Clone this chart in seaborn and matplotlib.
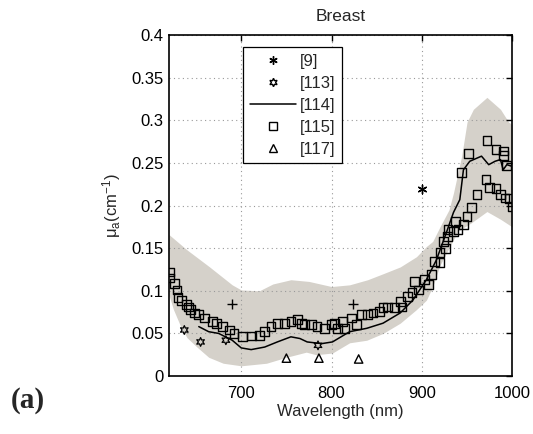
import numpy as np
import pandas as pd
import matplotlib
matplotlib.use("Agg")
import matplotlib.pyplot as plt
from matplotlib.ticker import FuncFormatter, MultipleLocator
from matplotlib.lines import Line2D
import seaborn as sns

# ---------------- data ----------------
band_upper_wl = [620, 640, 665, 690, 700, 720, 735, 755, 775, 800, 820, 840, 857, 876,
                 894, 905, 912, 920, 930, 935, 944, 950, 957, 972, 987, 996, 1000]
band_upper = [0.166, 0.148, 0.128, 0.107, 0.101, 0.100, 0.108, 0.113, 0.111, 0.105, 0.107,
              0.113, 0.120, 0.128, 0.140, 0.152, 0.158, 0.175, 0.195, 0.215, 0.258, 0.298,
              0.313, 0.327, 0.313, 0.298, 0.295]
band_lower_wl = [620, 625, 633, 640, 651, 664, 680, 700, 728, 750, 772, 783, 801, 820, 839,
                 857, 876, 894, 905, 912, 920, 930, 940, 955, 972, 987, 1000]
band_lower = [0.095, 0.078, 0.058, 0.045, 0.034, 0.022, 0.015, 0.012, 0.015, 0.022, 0.028,
              0.025, 0.027, 0.039, 0.042, 0.050, 0.062, 0.078, 0.089, 0.105, 0.130, 0.150,
              0.170, 0.180, 0.193, 0.184, 0.175]

ref114_wl = [653, 664, 675, 690, 700, 711, 726, 740, 755, 765, 773, 789, 801, 820, 839, 857,
             876, 890, 905, 916, 927, 935, 942, 946, 953, 966, 974, 981, 987, 990, 994, 1000]
ref114_mua = [0.058, 0.052, 0.050, 0.042, 0.033, 0.031, 0.034, 0.040, 0.046, 0.044, 0.040,
              0.038, 0.040, 0.052, 0.056, 0.062, 0.074, 0.089, 0.113, 0.136, 0.168, 0.192,
              0.207, 0.242, 0.252, 0.258, 0.248, 0.252, 0.254, 0.242, 0.248, 0.246]

ref115_wl = [621, 621, 626, 629, 630, 634, 639, 642, 644, 648, 653, 659, 668, 673, 679, 687,
             692, 701, 711, 720, 726, 733, 740, 748, 755, 762, 767, 770, 778, 784, 792, 800,
             807, 803, 812, 814, 822, 828, 833, 840, 846, 853, 857, 862, 870, 876, 878, 884,
             889, 892, 896, 903, 907, 911, 914, 920, 926, 928, 929, 924, 937, 940, 946, 950,
             955, 961, 944, 952, 972, 982, 990, 990, 994, 971, 975, 982, 987, 992, 997, 1000,
             935, 920]
ref115_mua = [0.122, 0.115, 0.109, 0.101, 0.092, 0.089, 0.084, 0.081, 0.078, 0.074, 0.072,
              0.068, 0.064, 0.062, 0.058, 0.054, 0.050, 0.046, 0.047, 0.048, 0.052, 0.058,
              0.062, 0.062, 0.064, 0.066, 0.062, 0.060, 0.060, 0.058, 0.056, 0.060, 0.056,
              0.062, 0.064, 0.056, 0.068, 0.060, 0.072, 0.072, 0.074, 0.076, 0.080, 0.081,
              0.080, 0.087, 0.081, 0.093, 0.098, 0.111, 0.101, 0.113, 0.107, 0.119, 0.134,
              0.145, 0.150, 0.164, 0.172, 0.158, 0.181, 0.172, 0.178, 0.187, 0.198, 0.213,
              0.239, 0.261, 0.276, 0.266, 0.264, 0.259, 0.247, 0.231, 0.221, 0.220, 0.213,
              0.209, 0.208, 0.199, 0.170, 0.133]

ref9_wl = [900]
ref9_mua = [0.219]
ref113_wl = [637, 655, 683, 785]
ref113_mua = [0.054, 0.040, 0.042, 0.036]
ref117_wl = [750, 786, 830]
ref117_mua = [0.021, 0.021, 0.020]
plus_wl = [690, 824]
plus_mua = [0.084, 0.085]

legend_labels = ["[9]", "[113]", "[114]", "[115]", "[117]"]

# ---------------- style ----------------
sns.set_style("white")
plt.rcParams["font.family"] = ["Liberation Sans", "DejaVu Sans"]
plt.rcParams["mathtext.fontset"] = "custom"
plt.rcParams["mathtext.rm"] = "Liberation Sans"
plt.rcParams["mathtext.it"] = "Liberation Sans:italic"
plt.rcParams["mathtext.default"] = "rm"

fig = plt.figure(figsize=(5.33, 4.34), dpi=100)
ax = fig.add_axes([0.317, 0.1336, 0.644, 0.7854])

band_color = "#d5d1ca"
grid = np.array(sorted(set(band_upper_wl) | set(band_lower_wl)), dtype=float)
up = np.interp(grid, band_upper_wl, band_upper)
lo = np.interp(grid, band_lower_wl, band_lower)
ax.fill_between(grid, lo, up, color=band_color, linewidth=0, zorder=1)

df114 = pd.DataFrame({"wl": ref114_wl, "mua": ref114_mua})
sns.lineplot(data=df114, x="wl", y="mua", ax=ax, color="black", linewidth=1.1,
             sort=False, zorder=4)

df115 = pd.DataFrame({"wl": ref115_wl, "mua": ref115_mua})
sns.scatterplot(data=df115, x="wl", y="mua", ax=ax, marker="s", s=40,
                facecolor="none", edgecolor="black", linewidth=1.0, zorder=5)

df9 = pd.DataFrame({"wl": ref9_wl, "mua": ref9_mua})
sns.scatterplot(data=df9, x="wl", y="mua", ax=ax, marker=(6, 2, 0), s=40,
                color="black", linewidth=1.0, zorder=5)

df113 = pd.DataFrame({"wl": ref113_wl, "mua": ref113_mua})
sns.scatterplot(data=df113, x="wl", y="mua", ax=ax, marker=(6, 1, 0), s=40,
                facecolor="none", edgecolor="black", linewidth=0.9, zorder=5)

df117 = pd.DataFrame({"wl": ref117_wl, "mua": ref117_mua})
sns.scatterplot(data=df117, x="wl", y="mua", ax=ax, marker="^", s=36,
                facecolor="none", edgecolor="black", linewidth=1.0, zorder=5)

dfp = pd.DataFrame({"wl": plus_wl, "mua": plus_mua})
sns.scatterplot(data=dfp, x="wl", y="mua", ax=ax, marker="+", s=50,
                color="black", linewidth=1.0, zorder=5)

# ---------------- axes ----------------
ax.set_xlim(620, 1000)
ax.set_ylim(0, 0.4)
ax.set_xticks([700, 800, 900, 1000])
ax.yaxis.set_major_locator(MultipleLocator(0.05))
ax.yaxis.set_major_formatter(FuncFormatter(lambda v, p: f"{v:g}"))
ax.grid(True, color="#999999", linestyle=(0, (1, 3)), linewidth=0.8)
ax.set_axisbelow(False)
for sp in ax.spines.values():
    sp.set_color("black")
    sp.set_linewidth(1.2)
    sp.set_zorder(6)
ax.tick_params(axis="both", which="both", direction="in", length=4, width=1,
               top=True, right=True, labelsize=12, colors="black")
ax.tick_params(axis="x", pad=7)
ax.tick_params(axis="y", pad=4)
ax.set_xlabel("Wavelength (nm)", fontsize=12, labelpad=2)
ax.set_ylabel(r"μ$_\mathrm{a}$(cm$^{-1}$)", fontsize=12, labelpad=6)
ax.set_title("Breast", fontsize=12.5, pad=10)

handles = [
    Line2D([], [], linestyle="none", marker=(6, 2, 0), color="black", markersize=6, markeredgewidth=1),
    Line2D([], [], linestyle="none", marker=(6, 1, 0), markerfacecolor="none", markeredgecolor="black", markersize=6),
    Line2D([], [], color="black", linewidth=1.1),
    Line2D([], [], linestyle="none", marker="s", markerfacecolor="none", markeredgecolor="black", markersize=6),
    Line2D([], [], linestyle="none", marker="^", markerfacecolor="none", markeredgecolor="black", markersize=6),
]
leg = ax.legend(handles, legend_labels, loc="upper left", bbox_to_anchor=(0.216, 0.965),
                borderaxespad=0, fancybox=False, framealpha=1, edgecolor="black",
                fontsize=12, handlelength=2.8, handletextpad=0.2, labelspacing=0.42,
                borderpad=0.4)
leg.get_frame().set_linewidth(0.9)
leg.set_zorder(10)

fig.text(0.02, 0.078, "(a)", fontsize=21, fontweight="bold",
         family=["Liberation Serif", "DejaVu Serif"], va="center", ha="left")

fig.savefig("out.png", dpi=100)
